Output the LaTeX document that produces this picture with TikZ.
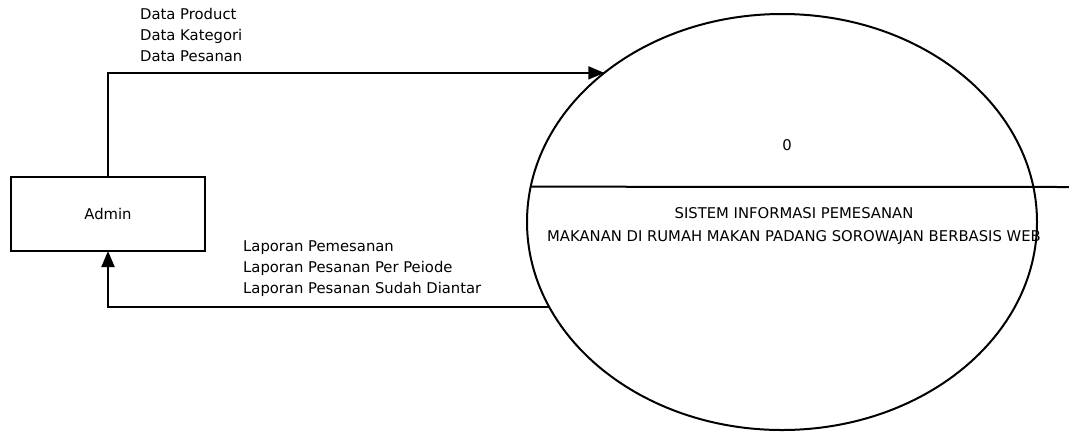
\documentclass[tikz,border=0pt]{standalone}
\usepackage{fontspec}
\setmainfont{DejaVu Sans}
\usetikzlibrary{shapes.geometric,arrows.meta}
\begin{document}
\begin{tikzpicture}[x=1bp,y=-1bp,
  lbl/.style={font=\fontsize{14.8bp}{21bp}\selectfont, inner sep=0pt, align=left},
  flow/.style={line width=2bp, -{Triangle[length=16bp,width=13bp]}},
  entity/.style={draw, line width=2.2bp, minimum width=194bp, minimum height=74bp, inner sep=0pt, outer sep=0pt},
  proc/.style={draw, ellipse, line width=2bp, minimum width=510bp, minimum height=416bp, inner sep=0pt, outer sep=0pt}]
\useasboundingbox (0,0) rectangle (1069,432);
\node[entity] (admin) at (108,214) {};
\node[lbl] (admintxt) at (108,214) {Admin};
\node[lbl] (num) at (787,145) {0};
\node[proc] (e) at (782,222) {};
\node[lbl, align=center, font=\fontsize{14.8bp}{23bp}\selectfont] (title) at (794,226) {SISTEM INFORMASI PEMESANAN\\MAKANAN DI RUMAH MAKAN PADANG SOROWAJAN BERBASIS WEB};
\coordinate (divend) at (1069,187);
\draw[line width=2bp] (e.172.3) -- (divend);
\draw[flow] (admin.north) |- (e.140.4);
\draw[flow] (e.200) -| (admin.south);
\node[lbl, anchor=north west] (din) at (140,8) {Data Product\\Data Kategori\\Data Pesanan};
\node[lbl, anchor=north west] (dout) at (243,241) {Laporan Pemesanan\\Laporan Pesanan Per Peiode\\Laporan Pesanan Sudah Diantar};
\end{tikzpicture}
\end{document}
